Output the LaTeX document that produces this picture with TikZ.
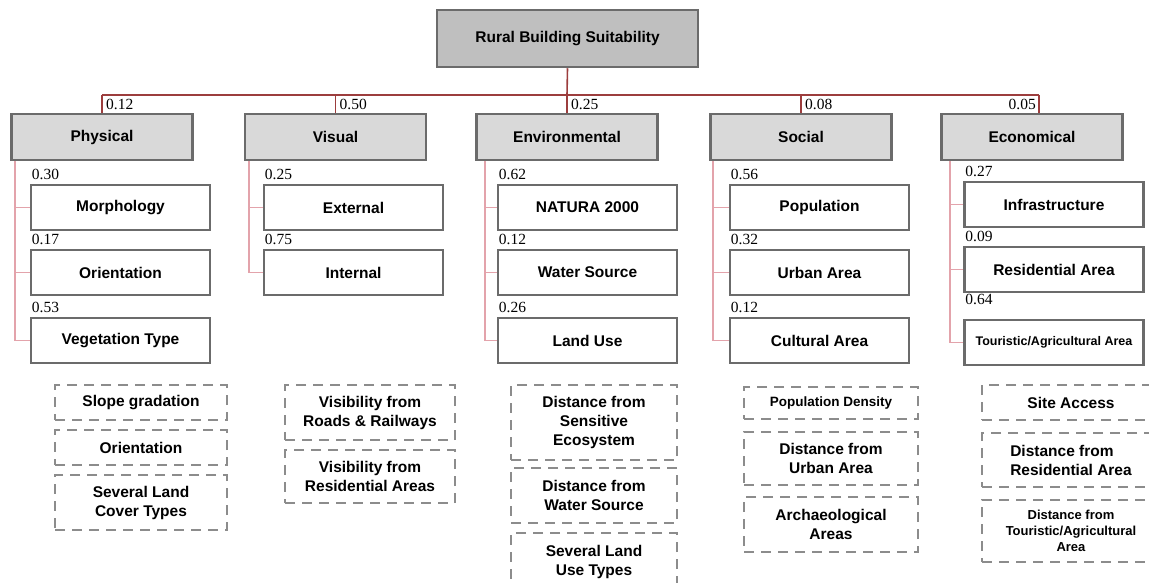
\documentclass[tikz,border=0pt]{standalone}
\usepackage{fontspec}
\setmainfont{Liberation Sans}
\newfontfamily\weightfont{Liberation Serif}
\usepackage{tikz}
\usetikzlibrary{positioning}
\definecolor{rootgray}{HTML}{BFBFBF}
\definecolor{critgray}{HTML}{D9D9D9}
\definecolor{boxline}{HTML}{6B6B6B}
\definecolor{dashgray}{HTML}{8C8C8C}
\definecolor{trunkred}{HTML}{9C3D3D}
\definecolor{branchpink}{HTML}{E3A3AB}
\newcommand{\boxfont}{\fontsize{15.5}{19}\selectfont\bfseries}

\begin{document}
\begin{tikzpicture}[x=1pt, y=-1pt,
  goal/.style={draw=boxline, line width=2.5pt, fill=rootgray, minimum width=261pt, minimum height=57pt, inner sep=0pt, font=\boxfont},
  crit/.style={draw=boxline, line width=2.5pt, fill=critgray, minimum width=181pt, minimum height=46pt, inner sep=0pt, font=\boxfont},
  sub/.style={draw=boxline, line width=2.5pt, fill=white, minimum width=179pt, minimum height=45pt, inner sep=0pt, font=\boxfont},
  factor/.style={draw=dashgray, line width=1.8pt, dash pattern=on 10pt off 7pt, inner sep=0pt, align=center, font=\boxfont},
  wt/.style={font=\weightfont\fontsize{15.5}{18}\selectfont, inner sep=0pt},
  trunk/.style={draw=trunkred, line width=1.6pt},
  branch/.style={draw=branchpink, line width=1.6pt}
]
  \clip (0,0) rectangle (1149,582);

  % goal and criteria
  \node[goal] (root) at (567.5,38.5) {Rural Building Suitability};
  \node[crit] (phys) at (102,137) {Physical};
  \node[crit] (vis) at (335.5,137) {Visual};
  \node[crit] (env) at (567,137) {Environmental};
  \node[crit] (soc) at (801,137) {Social};
  \node[crit] (eco) at (1032,137) {Economical};

  \coordinate (bus) at (567,95);
  \coordinate (ecodrop) at ([xshift=7pt]eco.north);
  \draw[trunk] (root.south) -- (bus);
  \draw[trunk] (bus -| phys.north) -- (bus -| ecodrop);
  \draw[trunk] (bus -| phys.north) -- (phys.north);
  \draw[trunk] (bus -| vis.north) -- (vis.north);
  \draw[trunk] (bus -| env.north) -- (env.north);
  \draw[trunk] (bus -| soc.north) -- (soc.north);
  \draw[trunk] (bus -| ecodrop) -- (ecodrop);

  \node[wt, anchor=base west] at ([xshift=4pt,yshift=3.5pt]phys.north) {0.12};
  \node[wt, anchor=base west] at ([xshift=4pt,yshift=3.5pt]vis.north) {0.50};
  \node[wt, anchor=base west] at ([xshift=4pt,yshift=3.5pt]env.north) {0.25};
  \node[wt, anchor=base west] at ([xshift=4pt,yshift=3.5pt]soc.north) {0.08};
  \node[wt, anchor=base east] at ([xshift=4pt,yshift=3.5pt]eco.north) {0.05};

  % sub-criteria
  \node[sub] (morph) at (120.5,207.5) {Morphology};
  \node[sub] (orient) at (120.5,272.5) {Orientation};
  \node[sub] (veget) at (120.5,340.5) {Vegetation Type};

  \node[sub] (ext) at (353.5,207.5) {External};
  \node[sub] (int) at (353.5,272.5) {Internal};

  \node[sub] (natura) at (587.5,207.5) {NATURA 2000};
  \node[sub] (water) at (587.5,272.5) {Water Source};
  \node[sub] (landuse) at (587.5,340.5) {Land Use};

  \node[sub] (popul) at (819.5,207.5) {Population};
  \node[sub] (urban) at (819.5,272.5) {Urban Area};
  \node[sub] (cultur) at (819.5,340.5) {Cultural Area};

  \node[sub] (infra) at (1054,204.5) {Infrastructure};
  \node[sub] (resid) at (1054,269.5) {Residential Area};
  \node[sub, font=\fontsize{12.5}{15}\selectfont\bfseries] (tourist) at (1054,342.5) {Touristic/Agricultural Area};

  \coordinate (pv) at ([xshift=5pt]phys.south west);
  \draw[branch] (pv) |- (veget.west);
  \draw[branch] (pv |- morph.west) -- (morph.west);
  \draw[branch] (pv |- orient.west) -- (orient.west);

  \coordinate (vv) at ([xshift=5pt]vis.south west);
  \draw[branch] (vv) |- (int.west);
  \draw[branch] (vv |- ext.west) -- (ext.west);

  \coordinate (ev) at ([xshift=10pt]env.south west);
  \draw[branch] (ev) |- (landuse.west);
  \draw[branch] (ev |- natura.west) -- (natura.west);
  \draw[branch] (ev |- water.west) -- (water.west);

  \coordinate (sv) at ([xshift=4pt]soc.south west);
  \draw[branch] (sv) |- (cultur.west);
  \draw[branch] (sv |- popul.west) -- (popul.west);
  \draw[branch] (sv |- urban.west) -- (urban.west);

  \coordinate (cv) at ([xshift=10pt]eco.south west);
  \draw[branch] (cv) |- (tourist.west);
  \draw[branch] (cv |- infra.west) -- (infra.west);
  \draw[branch] (cv |- resid.west) -- (resid.west);

  \node[wt, anchor=base west] at ([xshift=2pt,yshift=4pt]morph.north west) {0.30};
  \node[wt, anchor=base west] at ([xshift=2pt,yshift=4pt]orient.north west) {0.17};
  \node[wt, anchor=base west] at ([xshift=2pt,yshift=4pt]veget.north west) {0.53};
  \node[wt, anchor=base west] at ([xshift=2pt,yshift=4pt]ext.north west) {0.25};
  \node[wt, anchor=base west] at ([xshift=2pt,yshift=4pt]int.north west) {0.75};
  \node[wt, anchor=base west] at ([xshift=2pt,yshift=4pt]natura.north west) {0.62};
  \node[wt, anchor=base west] at ([xshift=2pt,yshift=4pt]water.north west) {0.12};
  \node[wt, anchor=base west] at ([xshift=2pt,yshift=4pt]landuse.north west) {0.26};
  \node[wt, anchor=base west] at ([xshift=2pt,yshift=4pt]popul.north west) {0.56};
  \node[wt, anchor=base west] at ([xshift=2pt,yshift=4pt]urban.north west) {0.32};
  \node[wt, anchor=base west] at ([xshift=2pt,yshift=4pt]cultur.north west) {0.12};
  \node[wt, anchor=base west] at ([xshift=2pt,yshift=4pt]infra.north west) {0.27};
  \node[wt, anchor=base west] at ([xshift=2pt,yshift=4pt]resid.north west) {0.09};
  \node[wt, anchor=base west] at ([xshift=2pt,yshift=14pt]tourist.north west) {0.64};

  % factors (dashed)
  \node[factor, minimum width=172pt, minimum height=35pt] (fslope) at (141,402.5) {Slope gradation};
  \node[factor, minimum width=172pt, minimum height=35pt] (forient) at (141,447.5) {Orientation};
  \node[factor, minimum width=172pt, minimum height=55pt] (fcover) at (141,502.5) {Several Land\\Cover Types};

  \node[factor, minimum width=170pt, minimum height=55pt] (froads) at (370,412.5) {Visibility from\\Roads \& Railways};
  \node[factor, minimum width=170pt, minimum height=53pt] (fresareas) at (370,476.5) {Visibility from\\Residential Areas};

  \node[factor, minimum width=166pt, minimum height=75pt] (fsensitive) at (594,422.5) {Distance from\\Sensitive\\Ecosystem};
  \node[factor, minimum width=166pt, minimum height=55pt] (fwater) at (594,495.5) {Distance from\\Water Source};
  \node[factor, minimum width=166pt, minimum height=57pt] (fuse) at (594,561.5) {Several Land\\Use Types};

  \node[factor, minimum width=174pt, minimum height=32pt, font=\fontsize{13.5}{16}\selectfont\bfseries] (fdensity) at (831,403) {Population Density};
  \node[factor, minimum width=174pt, minimum height=53pt] (furban) at (831,458.5) {Distance from\\Urban Area};
  \node[factor, minimum width=174pt, minimum height=55pt] (farch) at (831,524.5) {Archaeological\\Areas};

  \node[factor, minimum width=178pt, minimum height=35pt] (faccess) at (1071,402.5) {Site Access};
  \node[factor, minimum width=178pt, minimum height=54pt, align=left] (fresid) at (1071,460) {Distance from\\Residential Area};
  \node[factor, minimum width=178pt, minimum height=62pt, font=\fontsize{13}{16}\selectfont\bfseries] (ftourist) at (1071,531) {Distance from\\Touristic/Agricultural\\Area};
\end{tikzpicture}
\end{document}
